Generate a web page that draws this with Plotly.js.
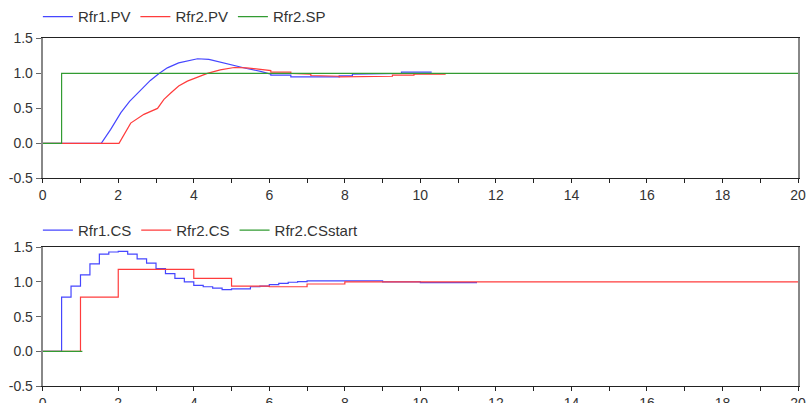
<!DOCTYPE html>
<html>
<head>
<meta charset="utf-8">
<script src="https://cdn.plot.ly/plotly-3.0.1.min.js"></script>
<style>html,body{margin:0;padding:0;background:#fff;}#chart{width:806px;height:403px;}</style>
</head>
<body>
<div id="chart"></div>
<script>
// ---- Top panel data ----
const pv1T = [0, 1.5, 1.55, 1.8, 2.07, 2.3, 2.6, 2.85, 3.08, 3.3, 3.6, 3.9, 4.1, 4.4, 4.7, 5.0, 5.4, 5.77, 6.04, 6.04, 6.57, 6.57, 7.4, 7.85, 7.85, 8.2, 8.2, 8.6, 8.6, 9.5, 9.5, 10.3];
const pv1V = [0, 0, 0, 0.2, 0.44, 0.6, 0.77, 0.9, 1.0, 1.08, 1.15, 1.19, 1.21, 1.2, 1.16, 1.12, 1.07, 1.03, 0.99, 0.975, 0.975, 0.95, 0.95, 0.95, 0.965, 0.965, 0.99, 0.99, 1.0, 1.0, 1.02, 1.02];
const pv2T = [0, 2.0, 2.02, 2.33, 2.68, 3.04, 3.21, 3.39, 3.6, 3.83, 4.1, 4.36, 4.7, 5.07, 5.4, 5.86, 6.04, 6.04, 6.57, 6.57, 6.8, 6.8, 7.1, 7.1, 7.4, 7.4, 7.85, 7.85, 8.2, 8.2, 9.26, 9.26, 9.83, 9.83, 10.67];
const pv2V = [0, 0, 0, 0.29, 0.415, 0.5, 0.63, 0.72, 0.82, 0.89, 0.95, 1.0, 1.05, 1.085, 1.08, 1.05, 1.04, 1.02, 1.02, 1.0, 1.0, 0.99, 0.99, 0.97, 0.97, 0.96, 0.96, 0.95, 0.95, 0.96, 0.96, 0.975, 0.975, 0.99, 0.99];
const spT = [0, 0.5, 0.5, 20];
const spV = [0, 0, 1, 1];

// ---- Bottom panel data (step signals) ----
const cs1T = [0, 0.5, 0.75, 1.0, 1.25, 1.5, 1.75, 2.0, 2.25, 2.5, 2.75, 3.0, 3.25, 3.5, 3.75, 4.0, 4.25, 4.5, 4.75, 5.0, 5.25, 5.5, 5.75, 6.0, 6.25, 6.5, 6.75, 7.0, 9.0, 10.0, 11.5];
const cs1V = [0, 0.78, 0.94, 1.10, 1.26, 1.40, 1.43, 1.44, 1.40, 1.33, 1.27, 1.19, 1.12, 1.05, 1.0, 0.95, 0.93, 0.91, 0.89, 0.90, 0.90, 0.93, 0.94, 0.96, 0.98, 0.995, 1.005, 1.015, 1.0, 0.99, 0.99];
const cs2T = [0, 1.0, 2.0, 3.0, 4.0, 5.0, 6.0, 7.0, 8.0, 20];
const cs2V = [0, 0.78, 1.18, 1.18, 1.05, 0.94, 0.93, 0.97, 1.0, 1.0];
const csStartT = [0, 1.05];
const csStartV = [0, 0];

// ---- Tick labels ----
const xTicks = [0, 2, 4, 6, 8, 10, 12, 14, 16, 18, 20];
const yTicks = [-0.5, 0, 0.5, 1.0, 1.5];
const yTickText = ["-0.5", "0.0", "0.5", "1.0", "1.5"];

const BLUE = 'rgb(70,70,255)', RED = 'rgb(255,60,60)', GREEN = 'rgb(50,155,50)';
function tr(x, y, name, color, xa, ya, lg, shape) {
  return {x: x, y: y, name: name, type: 'scatter', mode: 'lines', xaxis: xa, yaxis: ya, legend: lg,
    line: {color: color, width: 1.2, shape: shape || 'linear'}, hoverinfo: 'skip'};
}
const data = [
  tr(pv1T, pv1V, 'Rfr1.PV', BLUE, 'x', 'y', 'legend'),
  tr(pv2T, pv2V, 'Rfr2.PV', RED, 'x', 'y', 'legend'),
  tr(spT, spV, 'Rfr2.SP', GREEN, 'x', 'y', 'legend'),
  tr(cs1T, cs1V, 'Rfr1.CS', BLUE, 'x2', 'y2', 'legend2', 'hv'),
  tr(cs2T, cs2V, 'Rfr2.CS', RED, 'x2', 'y2', 'legend2', 'hv'),
  tr(csStartT, csStartV, 'Rfr2.CSstart', GREEN, 'x2', 'y2', 'legend2')
];

const tickFont = {family: 'Liberation Sans, Arial, sans-serif', size: 14, color: '#333'};
function xax(anchor) {
  return {domain: [0.0530, 0.9901], range: [0, 20], anchor: anchor, tickvals: xTicks, ticks: 'outside', ticklen: 4,
    tickcolor: '#222', showline: true, linecolor: '#222', linewidth: 1, mirror: true, showgrid: false, zeroline: false,
    ticklabeloverflow: 'allow', tickfont: tickFont,
    minor: {dtick: 1, ticks: 'outside', ticklen: 4, tickcolor: '#222', showgrid: false}};
}
function yax(domain, anchor) {
  return {domain: domain, range: [-0.5, 1.5], anchor: anchor, tickvals: yTicks, ticktext: yTickText, ticks: 'outside',
    ticklen: 5, tickcolor: '#666', showline: true, linecolor: '#888', linewidth: 2, mirror: true, showgrid: false,
    zeroline: false, tickfont: tickFont};
}
const legFont = {family: 'Liberation Sans, Arial, sans-serif', size: 15, color: '#333'};
const layout = {
  width: 806, height: 403, margin: {l: 0, r: 0, t: 0, b: 0}, paper_bgcolor: '#fff', plot_bgcolor: '#fff',
  showlegend: true,
  xaxis: xax('y'), yaxis: yax([0.5615, 0.9114], 'x'),
  xaxis2: xax('y2'), yaxis2: yax([0.0422, 0.3896], 'x2'),
  legend: {orientation: 'h', x: 0.047, xanchor: 'left', y: 0.9653, yanchor: 'middle', font: legFont, bgcolor: 'rgba(0,0,0,0)'},
  legend2: {orientation: 'h', x: 0.047, xanchor: 'left', y: 0.4318, yanchor: 'middle', font: legFont, bgcolor: 'rgba(0,0,0,0)'}
};
Plotly.newPlot('chart', data, layout, {staticPlot: true, displayModeBar: false});
</script>
</body>
</html>
